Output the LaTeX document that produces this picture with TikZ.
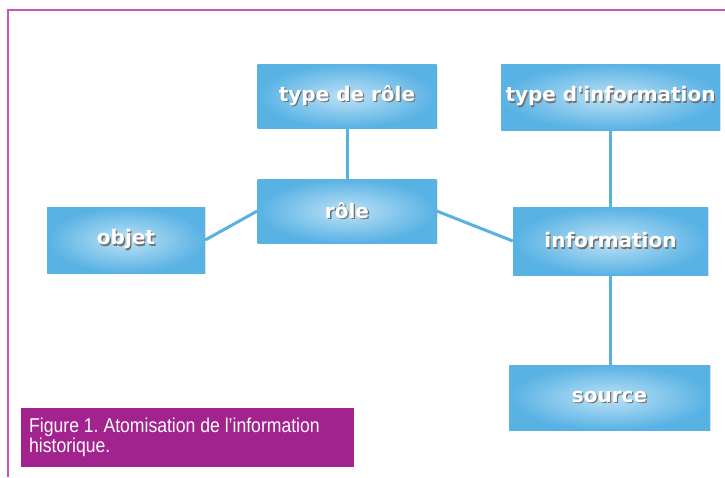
\documentclass[tikz,border=0pt]{standalone}
\usepackage{fontspec}
\setmainfont{DejaVu Sans}
\newfontfamily\capfont[FakeStretch=0.88]{Liberation Sans}
\usetikzlibrary{backgrounds,shadows}
\definecolor{boxblue}{RGB}{88,178,228}
\definecolor{boxlight}{RGB}{190,226,246}
\definecolor{linkblue}{RGB}{88,178,224}
\definecolor{framepink}{RGB}{204,85,187}
\definecolor{capviolet}{RGB}{163,35,142}
\frenchspacing
\newcommand\shadowtxt[1]{\makebox[0pt][l]{\raisebox{-1.3pt}{\hspace{1.3pt}\textcolor{black!55}{#1}}}#1}
\tikzset{
  boxnode/.style={draw=none, inner color=boxlight, outer color=boxblue, text=white,
    font=\bfseries\fontsize{20}{22}\selectfont,
    drop shadow={opacity=0.18, shadow xshift=1pt, shadow yshift=-1pt}},
  link/.style={draw=linkblue, line width=3pt},
}
\begin{document}
\begin{tikzpicture}[x=1pt,y=-1pt]
\useasboundingbox (0,0) rectangle (725,477);
\draw[framepink, line width=1.5pt] (725,10) -- (8,10) -- (8,477);
\node[boxnode, minimum width=179pt, minimum height=64pt] (typerole) at (347,96) {\shadowtxt{type de rôle}};
\node[boxnode, minimum width=179pt, minimum height=64pt] (role) at (347,211) {\shadowtxt{rôle}};
\node[boxnode, minimum width=219pt, minimum height=66pt] (typeinfo) at (610.5,97) {\shadowtxt{type d\textquotesingle information}};
\node[boxnode, minimum width=195pt, minimum height=68pt] (info) at (610.5,241) {\shadowtxt{information}};
\node[boxnode, minimum width=201pt, minimum height=65pt] (source) at (609.5,397.5) {\shadowtxt{source}};
\node[boxnode, minimum width=158pt, minimum height=66pt] (objet) at (126,240) {\shadowtxt{objet}};
\begin{pgfonlayer}{background}
\draw[link] (typerole) -- (role);
\draw[link] (objet.east) -- (role.west);
\draw[link] (role.east) -- (info.west);
\draw[link] (typeinfo.south -| info.north) -- (info.north);
\draw[link] (info) -- (source.north -| info.south);
\end{pgfonlayer}
\fill[capviolet] (21,408) rectangle (354,467);
\node[anchor=north west, inner sep=0pt, text=white, align=left, font=\capfont\fontsize{20}{20}\selectfont] (caption) at (29,418) {Figure 1. Atomisation de l’information\\historique.};
\end{tikzpicture}
\end{document}
